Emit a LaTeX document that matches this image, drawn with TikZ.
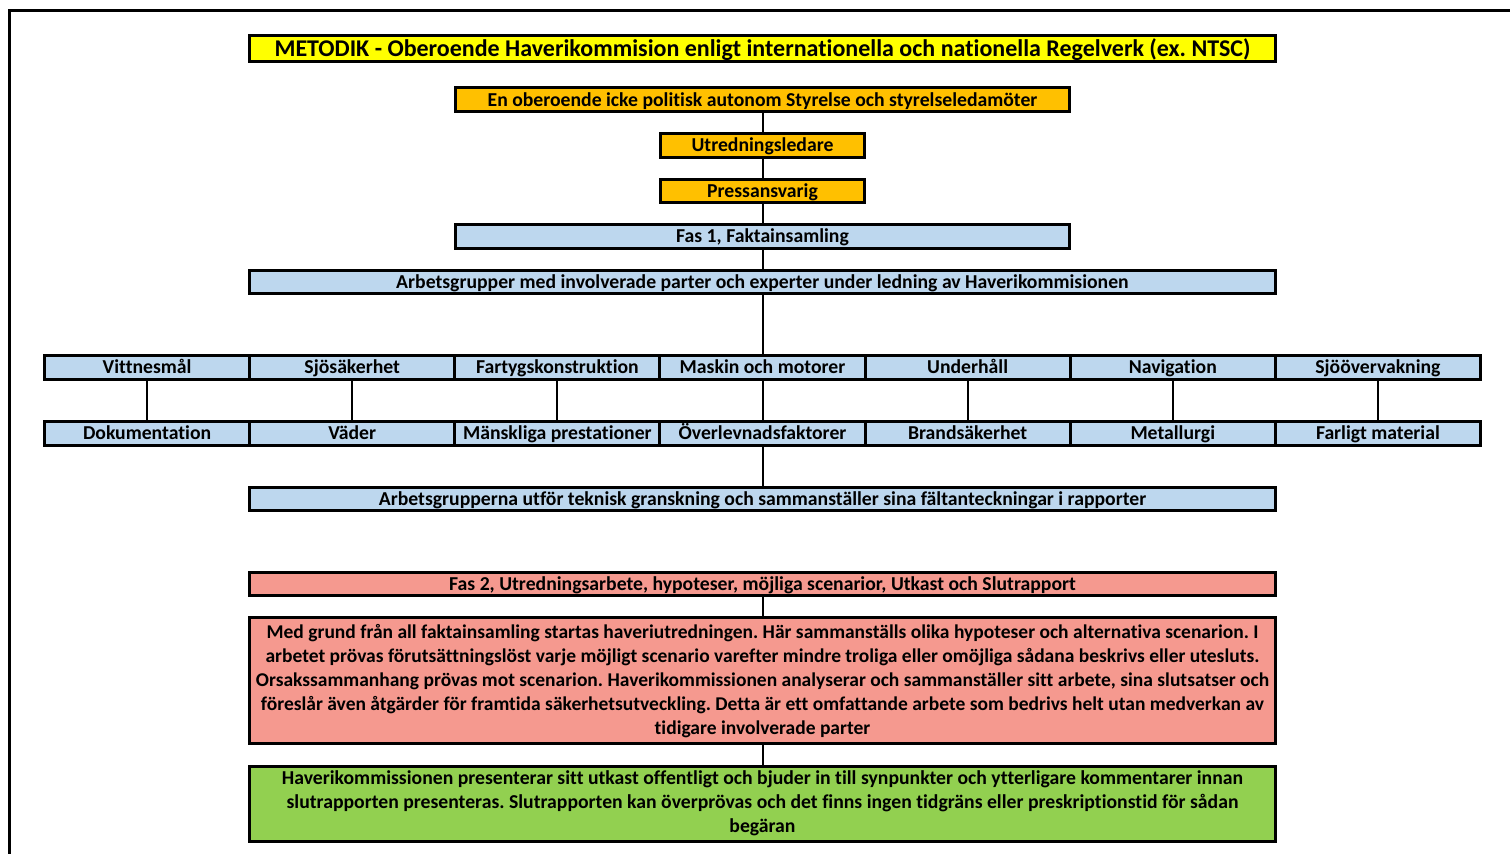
\documentclass[tikz,border=0pt]{standalone}
\usepackage{fontspec}
\setmainfont{Carlito}[Ligatures=NoCommon]
\usepackage{xcolor}
\usetikzlibrary{positioning}
\frenchspacing

\definecolor{titleyellow}{HTML}{FFFF00}
\definecolor{mgmtorange}{HTML}{FFC000}
\definecolor{factblue}{HTML}{BDD7EE}
\definecolor{phasered}{RGB}{245,153,143}
\definecolor{reportgreen}{HTML}{92D050}

\begin{document}
\begin{tikzpicture}[node distance=9.55pt, font=\bfseries\fontsize{9.85}{12}\selectfont]
        \tikzstyle{box} = [rectangle, draw, line width=1.5pt, inner sep=0pt, align=center]
        \tikzstyle{oneline} = [box, minimum height=11.75pt, text height=7.2pt, text depth=0.9pt]
        \tikzstyle{mgmt} = [oneline, fill=mgmtorange]
        \tikzstyle{fact} = [oneline, fill=factblue]
        \tikzstyle{area} = [fact, minimum width=102.57pt, outer sep=0pt]
        \tikzstyle{wide} = [minimum width=513pt]
        \tikzstyle{line} = [draw, line width=1pt]

        \useasboundingbox (0,0) rectangle (755pt,-427pt);
        % frame, cut off at the right and bottom
        \draw[line width=1.5pt] (4.5pt,-427pt) -- (4.5pt,-5.5pt) -- (755pt,-5.5pt);

        \node [box, wide, fill=titleyellow, minimum height=13pt, text height=8.6pt, text depth=1pt, font=\bfseries\fontsize{12}{14}\selectfont] (title) at (381.25pt,-24.25pt) {METODIK - Oberoende Haverikommision enligt internationella och nationella Regelverk (ex. NTSC)};
        \node [mgmt, minimum width=307pt, below=11.75pt of title] (board) {En oberoende icke politisk autonom Styrelse och styrelseledamöter};
        \node [mgmt, minimum width=102pt, below=of board] (lead) {Utredningsledare};
        \node [mgmt, minimum width=102pt, below=of lead] (press) {Pressansvarig};
        \node [fact, minimum width=307pt, below=of press] (fas1) {Fas 1, Faktainsamling};
        \node [fact, wide, below=of fas1] (groups) {Arbetsgrupper med involverade parter och experter under ledning av Haverikommisionen};

        % working areas, two rows of seven
        \node [area, below=30.25pt of groups] (maskin) {Maskin och motorer};
        \node [area, left=0pt of maskin] (fartyg) {Fartygskonstruktion};
        \node [area, left=0pt of fartyg] (sjosak) {Sjösäkerhet};
        \node [area, left=0pt of sjosak] (vittnen) {Vittnesmål};
        \node [area, right=0pt of maskin] (underh) {Underhåll};
        \node [area, right=0pt of underh] (navig) {Navigation};
        \node [area, right=0pt of navig] (sjoov) {Sjöövervakning};

        \node [area, below=21.25pt of maskin] (overlev) {Överlevnadsfaktorer};
        \node [area, left=0pt of overlev] (mansk) {Mänskliga prestationer};
        \node [area, left=0pt of mansk] (vader) {Väder};
        \node [area, left=0pt of vader] (dokum) {Dokumentation};
        \node [area, right=0pt of overlev] (brand) {Brandsäkerhet};
        \node [area, right=0pt of brand] (metall) {Metallurgi};
        \node [area, right=0pt of metall] (farligt) {Farligt material};

        \node [fact, wide, below=20.25pt of overlev] (reports) {Arbetsgrupperna utför teknisk granskning och sammanställer sina fältanteckningar i rapporter};

        \node [oneline, wide, fill=phasered, below=29.25pt of reports] (fas2) {Fas 2, Utredningsarbete, hypoteser, möjliga scenarior, Utkast och Slutrapport};
        \node [box, wide, fill=phasered, minimum height=63pt, below=of fas2, font=\bfseries\fontsize{9.75}{12}\selectfont] (analysis) {Med grund från all faktainsamling startas haveriutredningen. Här sammanställs olika hypoteser och alternativa scenarion. I\\arbetet prövas förutsättningslöst varje möjligt scenario varefter mindre troliga eller omöjliga sådana beskrivs eller utesluts.\\Orsakssammanhang prövas mot scenarion. Haverikommissionen analyserar och sammanställer sitt arbete, sina slutsatser och\\föreslår även åtgärder för framtida säkerhetsutveckling. Detta är ett omfattande arbete som bedrivs helt utan medverkan av\\tidigare involverade parter};
        \node [box, wide, fill=reportgreen, minimum height=37.5pt, below=of analysis] (final) {Haverikommissionen presenterar sitt utkast offentligt och bjuder in till synpunkter och ytterligare kommentarer innan\\slutrapporten presenteras. Slutrapporten kan överprövas och det finns ingen tidgräns eller preskriptionstid för sådan\\begäran};

        \path [line] (board) -- (lead);
        \path [line] (lead) -- (press);
        \path [line] (press) -- (fas1);
        \path [line] (fas1) -- (groups);
        \path [line] (groups) -- (maskin);
        \foreach \a/\b in {vittnen/dokum, sjosak/vader, fartyg/mansk, maskin/overlev, underh/brand, navig/metall, sjoov/farligt}
            \path [line] (\a) -- (\b);
        \path [line] (overlev) -- (reports);
        \path [line] (fas2) -- (analysis);
        \path [line] (analysis) -- (final);
    \end{tikzpicture}
\end{document}
